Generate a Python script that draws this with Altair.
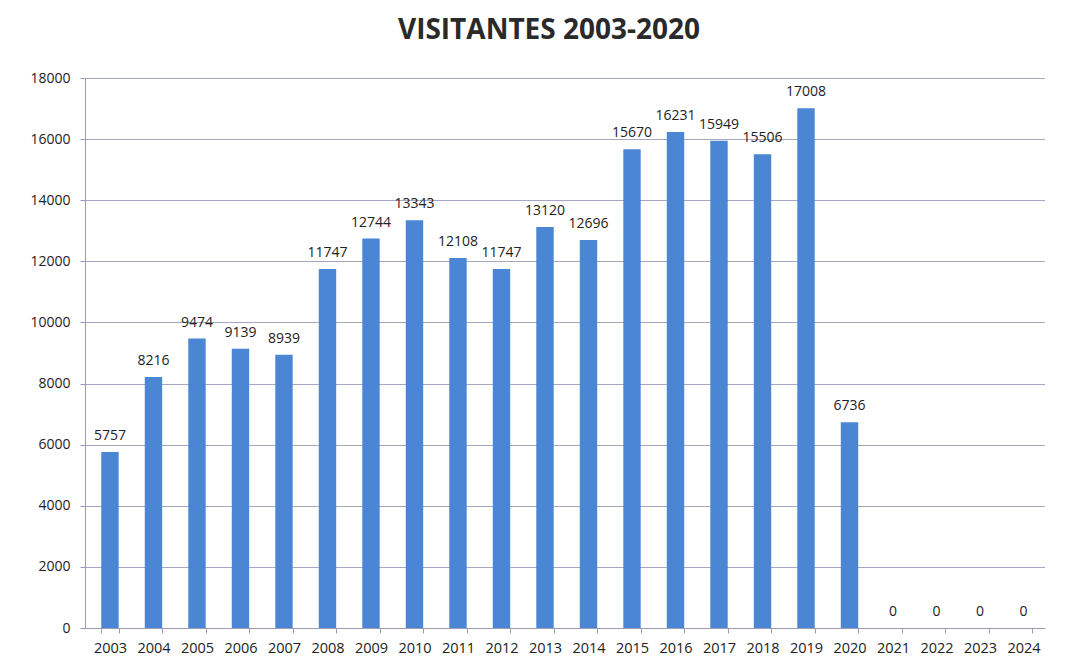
import altair as alt
import pandas as pd

years = [str(y) for y in range(2003, 2025)]
visitors = [5757, 8216, 9474, 9139, 8939, 11747, 12744, 13343, 12108, 11747,
            13120, 12696, 15670, 16231, 15949, 15506, 17008, 6736, 0, 0, 0, 0]

df = pd.DataFrame({"year": years, "visitors": visitors})

font = "Open Sans"

base = alt.Chart(df).encode(
    x=alt.X("year:N", sort=years, title=None,
            scale=alt.Scale(paddingInner=0.6, paddingOuter=0.334, align=0.56),
            axis=alt.Axis(labelAngle=0, tickBand="extent", labelFontSize=14.5,
                          labelColor="#222", labelFont=font, labelPadding=8,
                          domainColor="#9a9ab0", tickColor="#9a9ab0", tickSize=5,
                          grid=False)),
    y=alt.Y("visitors:Q", title=None,
            scale=alt.Scale(domain=[0, 18000]),
            axis=alt.Axis(values=list(range(0, 18001, 2000)), format="d",
                          labelFontSize=14,
                          labelColor="#222", labelFont=font, labelPadding=10,
                          domainColor="#9a9ab0", tickColor="#9a9ab0", tickSize=5,
                          gridColor="#a4a8c4", gridWidth=1)),
)

bars = base.mark_bar(color="#4A86D4")
labels = base.mark_text(baseline="bottom", dy=-9, fontSize=14, font=font,
                        color="#222").encode(text="visitors:Q")

chart = (bars + labels).properties(
    width=960, height=550,
    title=alt.TitleParams("VISITANTES 2003-2020", fontSize=28, font=font,
                          fontWeight="bold", color="#2a2a2a", anchor="middle",
                          offset=26, dx=-16),
    padding={"left": 77, "top": 70, "right": 0, "bottom": 34},
    autosize=alt.AutoSizeParams(type="none"),
).configure_view(stroke=None).configure(background="white")

chart.save("out.html", embed_options={"renderer": "svg", "actions": False})
